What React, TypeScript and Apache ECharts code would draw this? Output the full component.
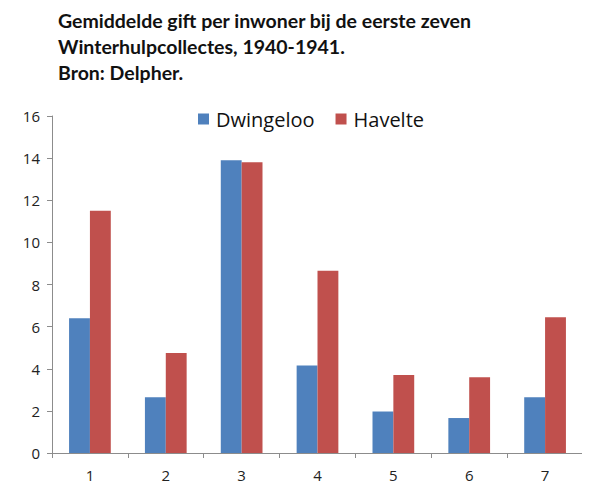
import React, { useEffect, useRef } from 'react'
import * as echarts from 'echarts'

const categories = ['1', '2', '3', '4', '5', '6', '7']
const dwingeloo = [6.4, 2.65, 13.9, 4.15, 1.97, 1.66, 2.65]
const havelte = [11.5, 4.75, 13.8, 8.65, 3.7, 3.6, 6.45]
const seriesNames = ['Dwingeloo', 'Havelte']
const titleLines = [
  'Gemiddelde gift per inwoner bij de eerste zeven',
  'Winterhulpcollectes, 1940-1941.',
  'Bron: Delpher.'
]

const App: React.FC = () => {
  const chartRef = useRef<HTMLDivElement>(null)

  useEffect(() => {
    if (!chartRef.current) return
    const chart = echarts.init(chartRef.current, undefined, { renderer: 'svg' })

    chart.setOption({
      animation: false,
      backgroundColor: '#ffffff',
      title: {
        text: titleLines.join('\n'),
        left: 53,
        top: 2,
        textStyle: {
          fontFamily: 'Lato',
          fontWeight: 'bold',
          fontSize: 19.5,
          lineHeight: 26,
          color: '#111111'
        }
      },
      legend: {
        data: seriesNames,
        left: 193,
        top: 104,
        icon: 'rect',
        itemWidth: 11,
        itemHeight: 11,
        itemGap: 21,
        textStyle: {
          fontFamily: 'Open Sans',
          fontSize: 20,
          color: '#111111',
          padding: [0, 0, 0, 2]
        }
      },
      grid: {
        left: 52,
        right: 7,
        top: 116,
        bottom: 45,
        containLabel: false
      },
      xAxis: {
        type: 'category',
        data: categories,
        axisLine: { lineStyle: { color: '#8c8c8c', width: 1 } },
        axisTick: { show: true, length: 5, lineStyle: { color: '#8c8c8c' } },
        axisLabel: {
          color: '#222222',
          fontFamily: 'Open Sans',
          fontSize: 15,
          margin: 14
        }
      },
      yAxis: {
        type: 'value',
        min: 0,
        max: 16,
        interval: 2,
        axisLine: { show: true, lineStyle: { color: '#8c8c8c', width: 1 } },
        axisTick: { show: true, length: 5, lineStyle: { color: '#8c8c8c' } },
        splitLine: { show: false },
        axisLabel: {
          color: '#222222',
          fontFamily: 'Open Sans',
          fontSize: 15,
          margin: 12
        }
      },
      series: [
        {
          name: seriesNames[0],
          type: 'bar',
          data: dwingeloo,
          barGap: '0%',
          barCategoryGap: '45%',
          itemStyle: { color: '#4f81bd' }
        },
        {
          name: seriesNames[1],
          type: 'bar',
          data: havelte,
          barGap: '0%',
          barCategoryGap: '45%',
          itemStyle: { color: '#c0504d' }
        }
      ]
    })

    return () => {
      chart.dispose()
    }
  }, [])

  return <div ref={chartRef} style={{ width: 590, height: 498, margin: -8 }} />
}

export default App
